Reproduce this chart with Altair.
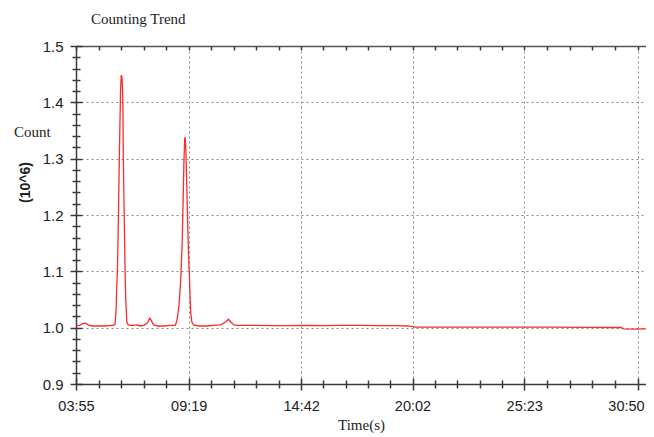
import altair as alt
import pandas as pd

# Time in seconds, count in units of 10^6
time_s = [235, 245, 255, 262, 270, 280, 300, 320, 335, 342, 347, 350, 352, 354, 357, 360,
          363, 365, 367, 369, 370, 371, 373, 376, 378, 381, 385, 392, 400, 410, 420, 430,
          440, 447, 452, 458, 470, 490, 505, 515, 521, 526, 531, 535, 537, 540, 543, 545,
          547, 548, 549, 551, 553, 555, 557, 559, 561, 563, 565, 568, 573, 590, 610, 630,
          650, 665, 673, 680, 688, 700, 750, 800, 850, 900, 950, 1000, 1050, 1100, 1150,
          1190, 1210, 1250, 1300, 1400, 1500, 1600, 1700, 1780, 1800, 1810, 1840, 1873]
count_m = [1.003, 1.004, 1.007, 1.008, 1.005, 1.003, 1.003, 1.003, 1.004, 1.004, 1.006, 1.03,
           1.07, 1.10, 1.20, 1.32, 1.42, 1.448, 1.445, 1.42, 1.38, 1.30, 1.22, 1.10, 1.05, 1.01,
           1.005, 1.004, 1.004, 1.005, 1.003, 1.004, 1.008, 1.017, 1.012, 1.005, 1.003, 1.003,
           1.004, 1.004, 1.005, 1.015, 1.04, 1.075, 1.10, 1.15, 1.23, 1.29, 1.33, 1.338, 1.336,
           1.31, 1.26, 1.21, 1.16, 1.12, 1.09, 1.05, 1.025, 1.01, 1.005, 1.003, 1.003, 1.004,
           1.005, 1.010, 1.015, 1.010, 1.005, 1.004, 1.004, 1.0035, 1.0035, 1.004, 1.0035,
           1.004, 1.004, 1.0035, 1.0035, 1.003, 1.001, 1.001, 1.001, 1.001, 1.001, 1.0008,
           1.0005, 1.0003, 1.0003, 0.998, 0.9975, 0.998]

x_major = [235, 559, 882, 1202, 1523, 1850]
y_major = [0.9, 1.0, 1.1, 1.2, 1.3, 1.4, 1.5]
x_minor = [a + (b - a) * k / 5 for a, b in zip(x_major[:-1], x_major[1:]) for k in range(1, 5)]
y_minor = [round(0.9 + 0.02 * k, 2) for k in range(31) if k % 5 != 0]

df = pd.DataFrame({"t": time_s, "v": count_m})

xs = alt.Scale(domain=[235, 1873], nice=False, zero=False)
ys = alt.Scale(domain=[0.9, 1.5], nice=False, zero=False)

AX = "#3a3a3a"
LBL = "#222222"
label_expr = ("(floor(datum.value/60) < 10 ? '0' : '') + floor(datum.value/60) + ':' + "
              "((datum.value % 60) < 10 ? '0' : '') + (datum.value % 60)")

base = alt.Chart(df)

main = base.mark_line(color="#ff2a2a", strokeWidth=1.3).encode(
    x=alt.X("t:Q", scale=xs, title="Time(s)", axis=alt.Axis(
        orient="bottom", values=x_major, labelExpr=label_expr, labelFlush=False,
        labelOffset={"condition": {"test": "datum.value == 1850", "value": -12}, "value": 0},
        grid=True, gridDash=[2, 3], gridColor="#8a8a8a", gridWidth=1,
        domainColor=AX, domainWidth=1.5, tickColor=AX, tickWidth=1.5, tickSize=6,
        labelPadding=9, labelFont="Liberation Sans", labelFontSize=14.5, labelColor=LBL,
        titleFont="Liberation Serif", titleFontSize=15, titleFontWeight="normal",
        titleColor=LBL, titleX=285, titleY=33, titleAlign="center", titleBaseline="top")),
    y=alt.Y("v:Q", scale=ys, title="(10^6)", axis=alt.Axis(
        orient="left", values=y_major, format=".1f", labelFlush=False,
        grid=True, gridDash=[2, 3], gridColor="#8a8a8a", gridWidth=1,
        domainColor=AX, domainWidth=1.5, tickColor=AX, tickWidth=1.5, tickSize=6,
        labelPadding=7, labelFont="Liberation Sans", labelFontSize=15, labelColor=LBL,
        titleFont="Liberation Sans", titleFontSize=14, titleFontWeight="bold",
        titleColor=LBL, titleX=-44, titleY=136, titleAngle=270, titleAlign="center",
        titleBaseline="bottom")),
)


def tick_axis(orient, values, size, offset, domain=False):
    return alt.Axis(orient=orient, values=values, labels=False, grid=False, domain=domain,
                    domainColor=AX, domainWidth=1.5, ticks=size > 0, tickSize=max(size, 0),
                    tickColor=AX, tickWidth=1.5, offset=offset)


major_in = base.mark_line(opacity=0).encode(
    x=alt.X("t:Q", scale=xs, title=None, axis=tick_axis("bottom", x_major, 6, -6)),
    y=alt.Y("v:Q", scale=ys, title=None, axis=tick_axis("left", y_major, 6, -6)),
)
minor = base.mark_line(opacity=0).encode(
    x=alt.X("t:Q", scale=xs, title=None, axis=tick_axis("bottom", x_minor, 8, -4)),
    y=alt.Y("v:Q", scale=ys, title=None, axis=tick_axis("left", y_minor, 8, -4)),
)
top_border = base.mark_line(opacity=0).encode(
    x=alt.X("t:Q", scale=xs, title=None, axis=alt.Axis(
        orient="top", values=x_major, labels=False, grid=False, ticks=False,
        domain=True, domainColor="#555555", domainWidth=1.5)),
    y=alt.Y("v:Q", scale=ys, axis=None),
)
top_ticks = base.mark_line(opacity=0).encode(
    x=alt.X("t:Q", scale=xs, title=None,
            axis=tick_axis("top", sorted(x_major + x_minor), 4, -4)),
    y=alt.Y("v:Q", scale=ys, axis=None),
)

title_txt = alt.Chart(pd.DataFrame({"label": ["Counting Trend"]})).mark_text(
    align="left", baseline="alphabetic", font="Liberation Serif", fontSize=15, color=LBL
).encode(text="label:N", x=alt.value(15), y=alt.value(-22))

count_txt = alt.Chart(pd.DataFrame({"label": ["Count"]})).mark_text(
    align="left", baseline="middle", font="Liberation Serif", fontSize=15, color=LBL
).encode(text="label:N", x=alt.value(-62), y=alt.value(86))

chart = alt.layer(top_border, top_ticks, major_in, minor, main, title_txt, count_txt).resolve_axis(
    x="independent", y="independent"
).properties(
    width=570, height=338,
    autosize=alt.AutoSizeParams(type="none"),
    padding={"left": 68, "top": 38, "right": 0, "bottom": 50},
    background="white",
).configure_view(stroke=None)

chart.save("out.html", embed_options={"renderer": "svg", "actions": False})
